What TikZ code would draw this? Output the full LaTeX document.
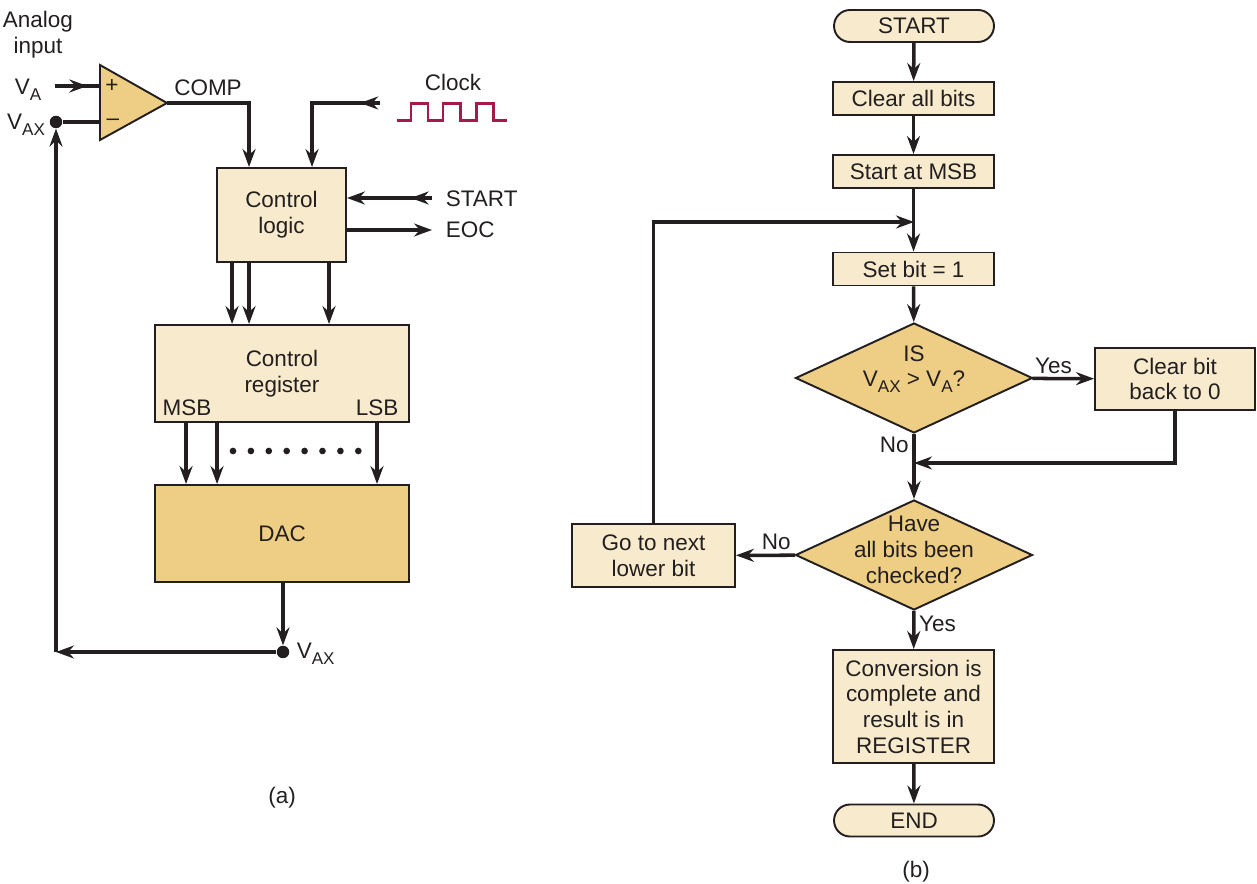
\documentclass[tikz,border=0pt]{standalone}
\usepackage{fontspec}
\setmainfont{Liberation Sans}
\usetikzlibrary{arrows.meta,positioning,calc,shapes.geometric,decorations.markings}
\definecolor{boxlight}{RGB}{248,235,205}
\definecolor{boxdark}{RGB}{237,206,132}
\definecolor{clockred}{RGB}{165,25,75}
\definecolor{ink}{RGB}{35,31,32}
\newcommand{\subs}[1]{\raisebox{-0.5ex}{\fontsize{9.7}{10}\selectfont #1}}
\tikzset{
  txt/.style={font=\fontsize{12.8}{14.6}\selectfont, align=center, inner sep=2pt, text=ink},
  box/.style={txt, draw=ink, line width=1.1pt, fill=boxlight, inner sep=0pt},
  term/.style={box, rounded corners=0.32cm, minimum width=3.2cm, minimum height=0.64cm},
  dia/.style={draw=ink, line width=1.1pt, fill=boxdark, diamond, inner sep=0pt, minimum width=4.74cm, minimum height=2.2cm},
  dot/.style={circle, fill=ink, inner sep=0pt, minimum size=0.25cm},
  wire/.style={line width=2pt, ink},
  arr/.style={wire, -{Stealth[length=3.6mm,width=2.6mm,inset=1.2mm]}},
  midarr/.style={wire, postaction={decorate}, decoration={markings, mark=at position #1 with {\arrow{Stealth[length=3.6mm,width=2.6mm,inset=1.2mm]}}}},
}
\begin{document}
\begin{tikzpicture}[x=0.02cm,y=-0.02cm]
\useasboundingbox (0,0) rectangle (1257,884);
% (a) successive-approximation ADC
\node[txt] (anin) at (38,35) {Analog\\input};
\coordinate (oaT) at (100,65);
\coordinate (oaB) at (100,140);
\coordinate (oaO) at (167,103);
\draw[line width=1.1pt, draw=ink, fill=boxdark] (oaT) -- (oaO) -- (oaB) -- cycle;
\node[txt] (plus) at (112,86) {+};
\node[txt] (minus) at (113,122) {\textendash};
\node[txt] (valbl) at (28,90) {V\subs{A}};
\coordinate (vain) at (55,86);
\coordinate (inp) at (100,86);
\draw[midarr=0.72] (vain) -- (inp);
\node[txt] (vaxlbl) at (26,125) {V\subs{AX}};
\node[dot] (vaxdot) at (56,122) {};
\coordinate (inn) at (100,122);
\draw[wire] (vaxdot) -- (inn);
\node[txt] (complbl) at (208,88) {COMP};
\node[box, minimum width=2.58cm, minimum height=1.88cm] (ctl) at (281.5,215) {Control\\logic};
\draw[arr] (oaO) -| ([xshift=0.66cm]ctl.north west);
\node[txt] (clklbl) at (453,82) {Clock};
\coordinate (clkin) at (380,103);
\draw[arr, midarr=0.15] (clkin) -| ([xshift=1.92cm]ctl.north west);
\draw[clockred, line width=1.7pt] (397,121) -- (411,121) -- (411,104) -- (428,104) -- (428,121) -- (443,121) -- (443,104) -- (460,104) -- (460,121) -- (476,121) -- (476,104) -- (493,104) -- (493,121) -- (507,121);
\coordinate (startin) at (432,198);
\draw[arr, midarr=0.25] (startin) -- (startin -| ctl.east);
\node[txt, anchor=west] (startlbl) at (442,199) {START};
\coordinate (eocout) at (432,230);
\draw[arr] (eocout -| ctl.east) -- (eocout);
\node[txt, anchor=west] (eoclbl) at (442,230) {EOC};
\node[box, minimum width=5.08cm, minimum height=1.94cm] (reg) at (282,373.5) {Control\\register};
\node[txt] (msb) at (187,408) {MSB};
\node[txt] (lsb) at (377,408) {LSB};
\draw[arr] ([xshift=0.32cm]ctl.south west) -- ([xshift=0.32cm]ctl.south west |- reg.north);
\draw[arr] ([xshift=0.66cm]ctl.south west) -- ([xshift=0.66cm]ctl.south west |- reg.north);
\draw[arr] ([xshift=2.26cm]ctl.south west) -- ([xshift=2.26cm]ctl.south west |- reg.north);
\node[box, fill=boxdark, minimum width=5.08cm, minimum height=1.94cm] (dac) at (282,533.5) {DAC};
\draw[arr] ([xshift=0.64cm]reg.south west) -- ([xshift=0.64cm]reg.south west |- dac.north);
\draw[arr] ([xshift=1.26cm]reg.south west) -- ([xshift=1.26cm]reg.south west |- dac.north);
\draw[arr] ([xshift=4.46cm]reg.south west) -- ([xshift=4.46cm]reg.south west |- dac.north);
\foreach \i in {0,...,7}
  \fill[ink] (233+\i*17.9,451) circle (1.9pt);
\node[dot] (vaxo) at (283,652) {};
\draw[arr] (dac.south -| vaxo) -- (vaxo);
\node[txt, anchor=west] (vaxolbl) at (293,654) {V\subs{AX}};
\coordinate (fbk) at (56,652);
\draw[arr] (vaxo) -- (fbk);
\draw[arr] (fbk) -- (vaxdot);
\node[txt] (capa) at (282,798) {(a)};
% (b) flowchart
\node[term] (st) at (914,26) {START};
\node[box, minimum width=3.22cm, minimum height=0.66cm] (clr) at (913.5,98.5) {Clear all bits};
\node[box, minimum width=3.22cm, minimum height=0.66cm] (msbst) at (913.5,171.5) {Start at MSB};
\node[box, minimum width=3.22cm, minimum height=0.66cm] (setb) at (913.5,269) {Set bit = 1};
\node[dia] (d1) at (914,378) {};
\node[txt] (d1t) at (914,369) {IS\\V\subs{AX} > V\subs{A}?};
\node[box, minimum width=3.2cm, minimum height=1.24cm] (clrb) at (1175,379) {Clear bit\\back to 0};
\node[dia] (d2) at (914,555) {};
\node[txt] (d2t) at (914,550) {Have\\all bits been\\checked?};
\node[box, minimum width=3.26cm, minimum height=1.26cm] (nxt) at (653.5,555.5) {Go to next\\lower bit};
\node[box, minimum width=3.22cm, minimum height=2.26cm] (conv) at (913.5,706.5) {Conversion is\\complete and\\result is in\\REGISTER};
\node[term] (en) at (914,820.5) {END};
\node[txt] (capb) at (916,872) {(b)};
\draw[arr] (st) -- (clr);
\draw[arr] (clr) -- (msbst);
\draw[arr] (msbst) -- (setb);
\draw[arr] (setb) -- (d1);
\draw[arr] (d1) -- node[txt, above, pos=0.34] {Yes} (clrb);
\draw[arr] (d1) -- node[txt, left, pos=0.17] {No} (d2);
\coordinate (mrg1) at (914,463);
\draw[arr] (clrb.south) |- (mrg1);
\draw[arr] (d2) -- node[txt, above, pos=0.32] {No} (nxt);
\draw[arr] (d2) -- node[txt, right, pos=0.33] {Yes} (conv);
\draw[arr] (conv) -- (en);
\coordinate (mrg2) at (914,222);
\draw[arr] (nxt.north) |- (mrg2);
\end{tikzpicture}
\end{document}
